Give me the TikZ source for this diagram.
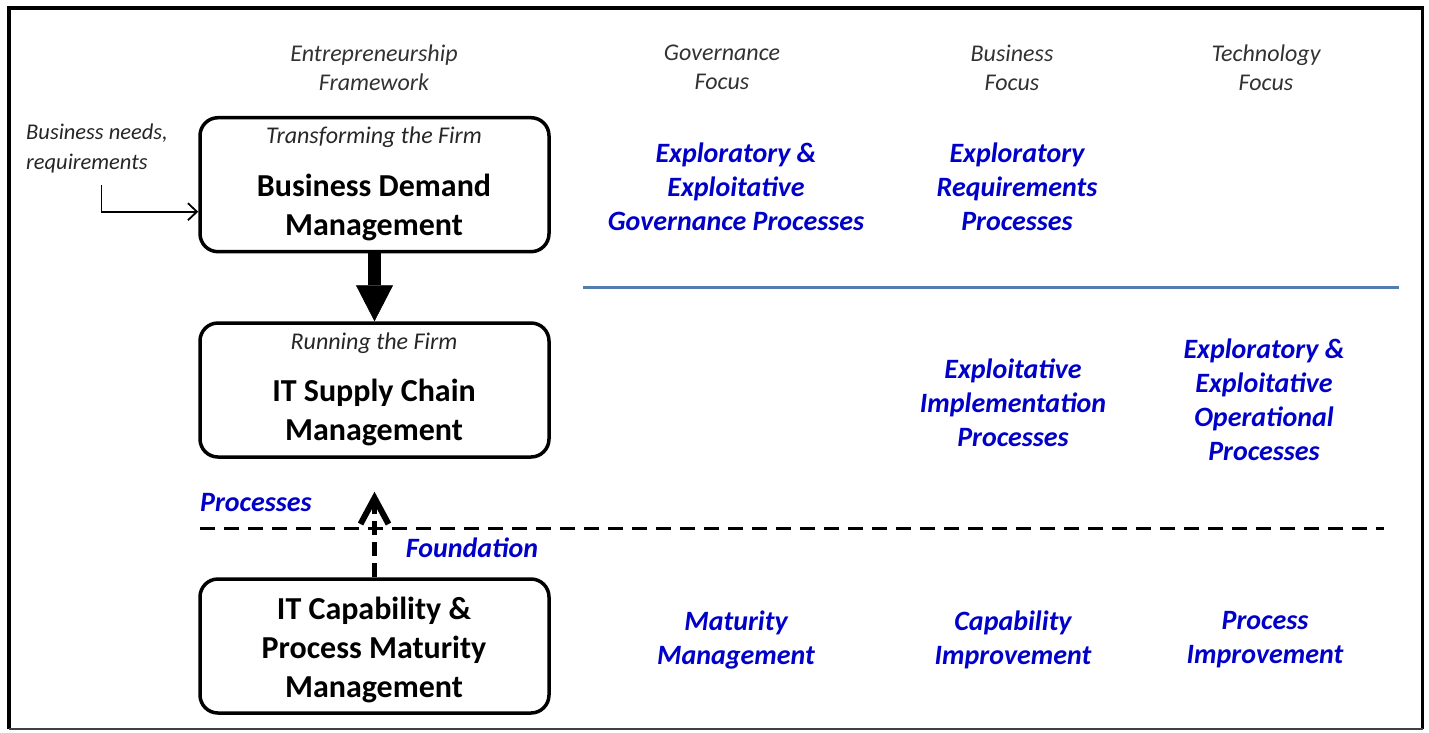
\documentclass[tikz,border=0pt]{standalone}
\usepackage{fontspec}
\setmainfont{Carlito}
\usetikzlibrary{arrows.meta}
\definecolor{bluetext}{RGB}{0,0,200}
\definecolor{headgray}{RGB}{50,50,50}
\definecolor{sepblue}{RGB}{84,124,176}
\tikzset{
  box/.style={draw=black, line width=3.5pt, rounded corners=18pt, minimum width=349pt, minimum height=134pt, inner sep=0pt},
  head/.style={align=center, inner sep=0pt, text=headgray, font=\fontsize{24}{29}\selectfont\itshape},
  sub/.style={align=center, inner sep=0pt, text=black!85, font=\fontsize{24}{29}\selectfont\itshape},
  small/.style={align=left, inner sep=0pt, text=black!85, font=\fontsize{22.5}{30}\selectfont\itshape},
  title/.style={align=center, inner sep=0pt, text=black, font=\fontsize{32}{39}\selectfont\bfseries},
  proc/.style={align=center, inner sep=0pt, text=bluetext, font=\fontsize{28}{34}\selectfont\bfseries\itshape},
}
\begin{document}
\begin{tikzpicture}[x=1pt,y=-1pt]
\useasboundingbox (0,0) rectangle (1429,732);
% frame
\draw[line width=3.7pt, black] (9,729) -- (9,8.3) -- (1422.5,8.3) -- (1422.5,729);
\draw[line width=2pt, black!75] (9,729) -- (1422.5,729);

% headers
\node[head] (h1) at (374,67.5) {Entrepreneurship\\Framework};
\node[head] (h2) at (722,67.5) {Governance\\Focus};
\node[head] (h3) at (1012,67.5) {Business\\Focus};
\node[head] (h4) at (1266,67.5) {Technology\\Focus};

% boxes
\node[box] (b1) at (374.5,184.7) {};
\node[box] (b2) at (374.5,390) {};
\node[box] (b3) at (374.5,646) {};

\node[sub] (b1s) at (374,137) {Transforming the Firm};
\node[title] (b1t) at (374,207) {Business Demand\\Management};
\node[sub] (b2s) at (374,343) {Running the Firm};
\node[title] (b2t) at (374,412) {IT Supply Chain\\Management};
\node[title] (b3t) at (374,649.5) {IT Capability \&\\Process Maturity\\Management};

% business needs
\node[small, anchor=west] (bn) at (26,148) {Business needs,\\requirements};
\coordinate (bnstart) at (101.5,185);
\draw[line width=1.8pt, -{Straight Barb[length=9pt,width=17pt]}] (bnstart) |- ([yshift=-27pt]b1.west);

% arrows between boxes
\draw[line width=13pt, -{Triangle[width=37pt,length=36pt,line width=0.5pt]}] (b1) -- (b2);
\coordinate (dtip) at (374.5,491.7);
\draw[line width=5pt, dash pattern=on 14pt off 7pt, -{Straight Barb[length=26pt,width=28pt,line width=6pt]}] (b3) -- (dtip);

% separators
\coordinate (s1a) at (583,287.5);
\coordinate (s1b) at (1398.7,287.5);
\draw[line width=2.5pt, sepblue] (s1a) -- (s1b);
\coordinate (s2a) at (200,528);
\coordinate (s2b) at (1384,528);
\draw[line width=3pt, dash pattern=on 15pt off 9pt] (s2a) -- (s2b);

\node[proc, anchor=west] (pr) at (200,503) {Processes};
\node[proc] (fd) at (472,548) {Foundation};

% process texts
\node[proc] (g1) at (736,187) {Exploratory \&\\Exploitative\\Governance Processes};
\node[proc] (r1) at (1017,187) {Exploratory\\Requirements\\Processes};
\node[proc] (r2) at (1013,403) {Exploitative\\Implementation\\Processes};
\node[proc] (t2) at (1264,399.5) {Exploratory \&\\Exploitative\\Operational\\Processes};
\node[proc] (g3) at (736,640) {Maturity\\Management};
\node[proc] (r3) at (1013,640) {Capability\\Improvement};
\node[proc] (t3) at (1265,640) {Process\\Improvement};
\end{tikzpicture}
\end{document}
